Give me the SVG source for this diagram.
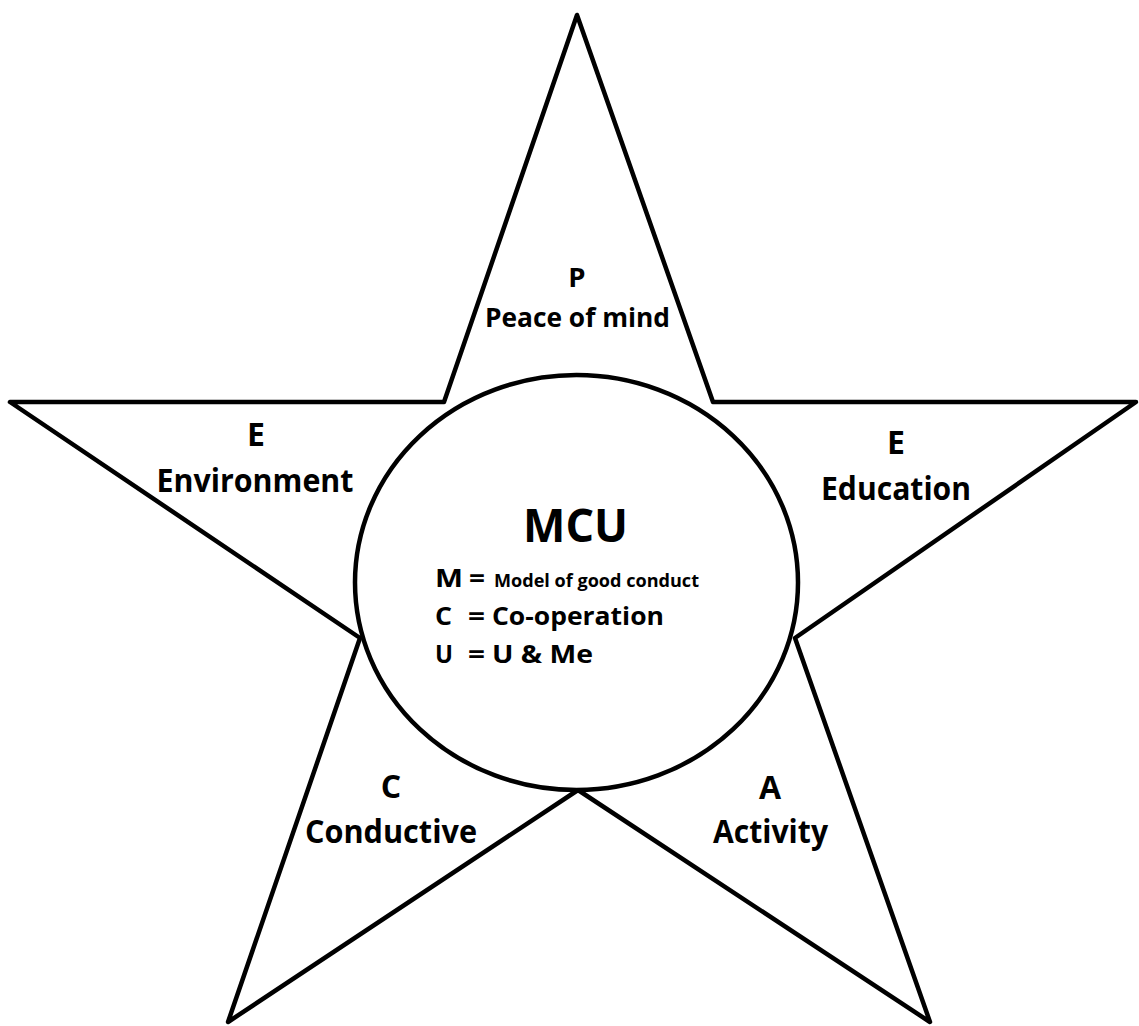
<svg xmlns="http://www.w3.org/2000/svg" width="1139" height="1026" viewBox="0 0 1139 1026">
<style>
.ln{fill:#fff;stroke:#000;stroke-width:4.5;stroke-linejoin:round}
text{font-family:"Open Sans","Liberation Sans",sans-serif;font-weight:bold;fill:#000}
.c{text-anchor:middle}
.l{font-size:32px}
.p{font-size:27.5px}
.t{font-size:47px}
.k{font-size:24.5px}
.s{font-size:17.5px}
</style>
<rect width="1139" height="1026" fill="#fff"/>
<g id="star">
<polygon class="ln" points="577,15 713,402 1136,402 795,638 930,1022 578,790 228,1022 360,638 10,402 444,402"/>
</g>
<g id="connectors"></g>
<g id="center">
<ellipse cx="576.5" cy="582.5" rx="221.5" ry="207.5" fill="#fff" stroke="#000" stroke-width="4.5"/>
<text class="t c" x="575.5" y="542" textLength="105" lengthAdjust="spacingAndGlyphs">MCU</text>
<text class="k" x="435" y="587" textLength="28" lengthAdjust="spacingAndGlyphs">M</text>
<text class="k" x="469" y="587" textLength="16" lengthAdjust="spacingAndGlyphs">=</text>
<text class="s" x="494" y="587" textLength="205" lengthAdjust="spacingAndGlyphs">Model of good conduct</text>
<text class="k" x="435" y="625" textLength="17" lengthAdjust="spacingAndGlyphs">C</text>
<text class="k" x="468" y="625" textLength="17" lengthAdjust="spacingAndGlyphs">=</text>
<text class="k" x="492" y="625" textLength="172" lengthAdjust="spacingAndGlyphs">Co-operation</text>
<text class="k" x="435" y="663" textLength="18" lengthAdjust="spacingAndGlyphs">U</text>
<text class="k" x="468" y="663" textLength="17" lengthAdjust="spacingAndGlyphs">=</text>
<text class="k" x="492" y="663" textLength="101" lengthAdjust="spacingAndGlyphs">U &amp; Me</text>
</g>
<g id="peace">
<text class="p c" x="577" y="287">P</text>
<text class="p c" x="577.5" y="327" textLength="185" lengthAdjust="spacingAndGlyphs">Peace of mind</text>
</g>
<g id="environment">
<text class="l c" x="256" y="446">E</text>
<text class="l c" x="255" y="492" textLength="197" lengthAdjust="spacingAndGlyphs">Environment</text>
</g>
<g id="education">
<text class="l c" x="896" y="454">E</text>
<text class="l c" x="896" y="500" textLength="150" lengthAdjust="spacingAndGlyphs">Education</text>
</g>
<g id="conductive">
<text class="l c" x="391" y="798">C</text>
<text class="l c" x="391" y="843" textLength="172" lengthAdjust="spacingAndGlyphs">Conductive</text>
</g>
<g id="activity">
<text class="l c" x="770" y="799">A</text>
<text class="l c" x="770.5" y="843" textLength="115" lengthAdjust="spacingAndGlyphs">Activity</text>
</g>
</svg>
